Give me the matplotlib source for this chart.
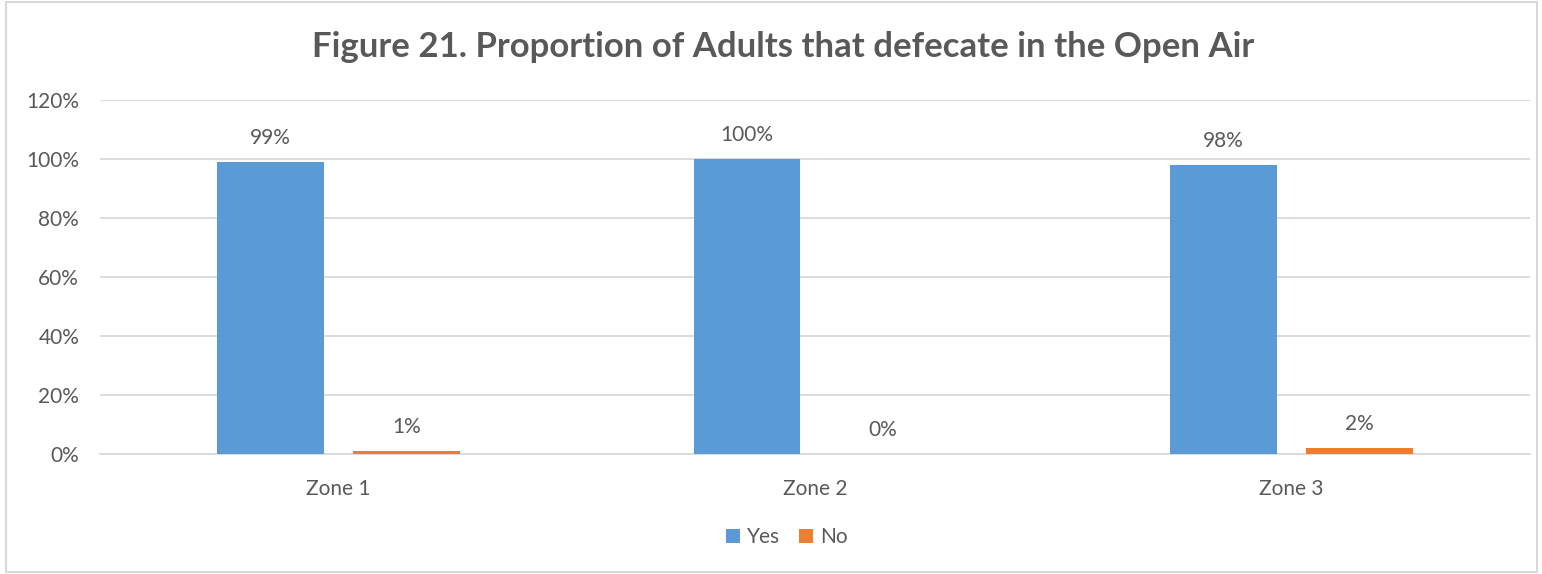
import numpy as np
import matplotlib.pyplot as plt
from matplotlib.patches import Rectangle

plt.rcParams['font.family'] = ['Lato', 'DejaVu Sans']

zones = ['Zone 1', 'Zone 2', 'Zone 3']
yes_vals = [99, 100, 98]
no_vals = [1, 0, 2]
yes_labels = ['99%', '100%', '98%']
no_labels = ['1%', '0%', '2%']
yticks = [0, 20, 40, 60, 80, 100, 120]

txt = '#595959'
fs = 15
fig = plt.figure(figsize=(15.42, 5.74), dpi=100)
ax = fig.add_axes([100 / 1542, 1 - 454 / 574, 1430 / 1542, 354 / 574])

x = np.arange(len(zones))
w = 0.224
off = 0.1425
b1 = ax.bar(x - off, yes_vals, w, color='#5B9BD5', label='Yes', zorder=3)
b2 = ax.bar(x + off, no_vals, w, color='#ED7D31', label='No', zorder=3)
ax.bar_label(b1, labels=yes_labels, padding=10, fontsize=fs, color=txt)
ax.bar_label(b2, labels=no_labels, padding=10, fontsize=fs, color=txt)

ax.set_xlim(-0.5, 2.5)
ax.set_ylim(0, 120)
ax.set_yticks(yticks)
ax.set_yticklabels([f'{t}%' for t in yticks])
ax.set_xticks(x)
ax.set_xticklabels(zones)
ax.tick_params(length=0, labelsize=fs, colors=txt)
ax.tick_params(axis='y', pad=15)
ax.tick_params(axis='x', pad=18)
ax.grid(axis='y', color='#D9D9D9', linewidth=1.3, zorder=0)
for s in ['top', 'right', 'left']:
    ax.spines[s].set_visible(False)
ax.spines['bottom'].set_color('#D9D9D9')
ax.spines['bottom'].set_linewidth(1.3)

fig.text(0.508, 1 - 47 / 574, 'Figure 21. Proportion of Adults that defecate in the Open Air',
         ha='center', va='center', fontsize=25, fontweight='bold', color=txt)

fig.legend(loc='center', bbox_to_anchor=(787 / 1542, 1 - 537 / 574), ncol=2, frameon=False,
           fontsize=fs, handlelength=0.65, handleheight=0.65, handletextpad=0.35,
           columnspacing=0.9, labelcolor=txt)

fig.patches.append(Rectangle((6 / 1542, 2 / 574), 1531 / 1542, 570 / 574, transform=fig.transFigure,
                             fill=False, edgecolor='#D9D9D9', linewidth=1.5))

fig.savefig('out.png', dpi=100)
